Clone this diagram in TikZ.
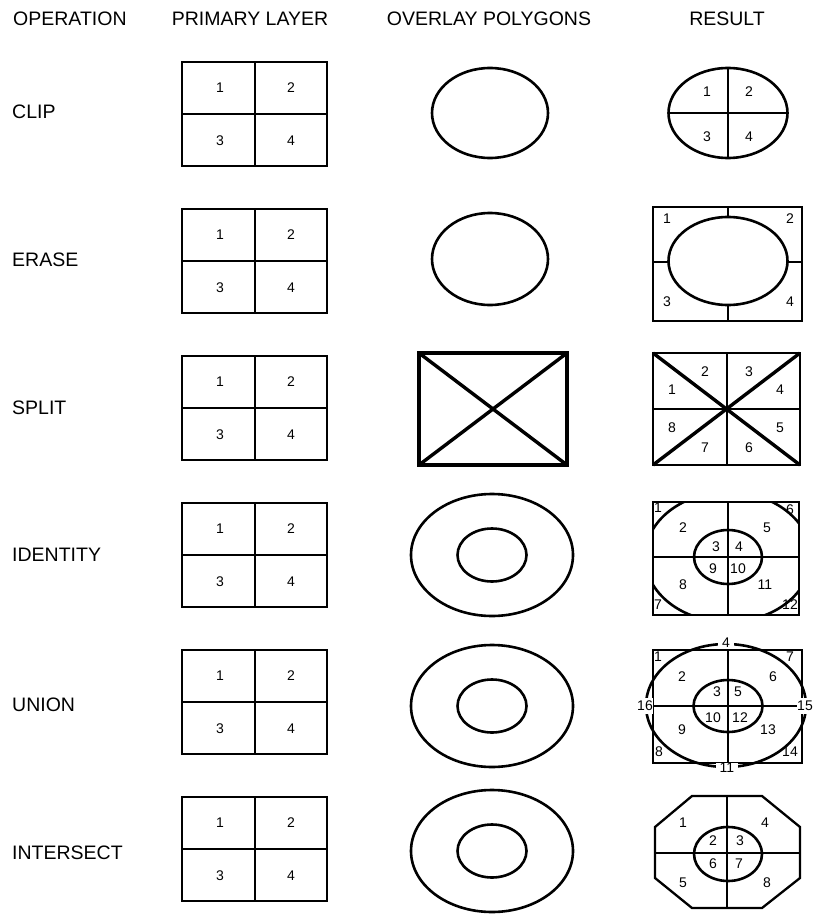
\documentclass[tikz,border=0pt]{standalone}
\usepackage{fontspec}
\setmainfont{Liberation Sans}
\begin{document}
\begin{tikzpicture}[x=1pt,y=-1pt,
  hdr/.style={font=\fontsize{19.5}{22}\selectfont, inner sep=0pt},
  num/.style={font=\fontsize{14}{16}\selectfont, inner sep=0pt},
  gapnum/.style={num, fill=white, inner ysep=0.5pt, inner xsep=4pt},
  gapside/.style={num, fill=white, inner xsep=0.5pt, inner ysep=3pt},
  frame/.style={line width=2.3pt},
  ell/.style={line width=2.6pt},
  thinl/.style={line width=1.7pt},
  thick3/.style={line width=3.4pt}]
\useasboundingbox (0,0) rectangle (812,915);
% headers
\node[hdr, anchor=west] (hop) at (13,19) {OPERATION};
\node[hdr] (hpl) at (250,19) {PRIMARY LAYER};
\node[hdr] (hov) at (489,19) {OVERLAY POLYGONS};
\node[hdr] (hres) at (727,19) {RESULT};
% row labels
\node[hdr, anchor=west] (lclip) at (12,112) {CLIP};
\node[hdr, anchor=west] (lerase) at (12,260) {ERASE};
\node[hdr, anchor=west] (lsplit) at (12,408) {SPLIT};
\node[hdr, anchor=west] (lident) at (12,555) {IDENTITY};
\node[hdr, anchor=west] (lunion) at (12,705) {UNION};
\node[hdr, anchor=west] (linter) at (12,853) {INTERSECT};
% primary layer
\foreach \i in {0,...,5} {
  \pgfmathsetmacro{\cy}{114+147*\i}
  \draw[frame] (182,\cy-52) rectangle (327,\cy+52);
  \draw[thinl] (255,\cy-52) -- (255,\cy+52);
  \draw[frame] (182,\cy) -- (327,\cy);
  \node[num] (p\i a) at (220,\cy-26) {1};
  \node[num] (p\i b) at (291,\cy-26) {2};
  \node[num] (p\i c) at (220,\cy+27) {3};
  \node[num] (p\i d) at (291,\cy+27) {4};
}
% overlay polygons
\draw[ell] (490,113) ellipse [x radius=58, y radius=45];
\draw[ell] (490,259) ellipse [x radius=58, y radius=46];
\draw[thick3] (419,353) rectangle (567,465);
\draw[thick3] (419,353) -- (567,465);
\draw[thick3] (567,353) -- (419,465);
\foreach \cy in {555,706,851} {
  \draw[ell] (492,\cy) ellipse [x radius=81, y radius=61];
  \draw[ell] (492,\cy) ellipse [x radius=34.5, y radius=26.5];
}
% ---- results ----
% CLIP
\draw[ell] (728,113) ellipse [x radius=59.5, y radius=45];
\draw[frame] (728,68) -- (728,158);
\draw[ell] (668.5,113) -- (787.5,113);
\node[num] (c1) at (707,92) {1};
\node[num] (c2) at (749,92) {2};
\node[num] (c3) at (707,137) {3};
\node[num] (c4) at (749,137) {4};
% ERASE
\draw[frame] (653,207) rectangle (802,321);
\draw[ell] (728,261) ellipse [x radius=59.5, y radius=44];
\draw[thinl] (728,207) -- (728,217);
\draw[thinl] (728,305) -- (728,321);
\draw[thinl] (653,262) -- (668.5,262);
\draw[thinl] (787.5,262) -- (802,262);
\node[num] (e1) at (667,219) {1};
\node[num] (e2) at (790,219) {2};
\node[num] (e3) at (667,302) {3};
\node[num] (e4) at (790,302) {4};
% SPLIT
\draw[frame] (653,353) rectangle (800,465);
\draw[thick3] (653,353) -- (800,465);
\draw[thick3] (800,353) -- (653,465);
\draw[thinl] (727,353) -- (727,465);
\draw[frame] (653,409) -- (800,409);
\node[num] (s1) at (672,390) {1};
\node[num] (s2) at (705,372) {2};
\node[num] (s3) at (749,372) {3};
\node[num] (s4) at (780,390) {4};
\node[num] (s5) at (780,428) {5};
\node[num] (s6) at (749,448) {6};
\node[num] (s7) at (705,448) {7};
\node[num] (s8) at (672,428) {8};
% IDENTITY
\begin{scope}
  \clip (653,502) rectangle (799,615);
  \draw[ell] (728,557) ellipse [x radius=83, y radius=65];
\end{scope}
\draw[frame] (653,502) rectangle (799,615);
\draw[ell] (728,557) ellipse [x radius=34, y radius=27];
\draw[thinl] (728,502) -- (728,615);
\draw[frame] (653,557) -- (799,557);
\node[num] (i1) at (658,508) {1};
\node[num] (i2) at (683,528) {2};
\node[num] (i3) at (716,547) {3};
\node[num] (i4) at (739,547) {4};
\node[num] (i5) at (767,528) {5};
\node[num] (i6) at (790,510) {6};
\node[num] (i7) at (658,605) {7};
\node[num] (i8) at (683,585) {8};
\node[num] (i9) at (713,569) {9};
\node[num] (i10) at (738,569) {10};
\node[num] (i11) at (765,585) {11};
\node[num] (i12) at (790,605) {12};
% UNION
\draw[frame] (653,650) rectangle (802,763);
\draw[thinl] (728,650) -- (728,763);
\draw[frame] (653,706) -- (802,706);
\draw[ell] (728,706) ellipse [x radius=34.5, y radius=26];
\draw[ell] (726,705.5) ellipse [x radius=80, y radius=61.5];
\node[num] (u1) at (658,657) {1};
\node[num] (u2) at (682,677) {2};
\node[num] (u3) at (717,692) {3};
\node[gapnum] (u4) at (726,643) {4};
\node[num] (u5) at (738,692) {5};
\node[num] (u6) at (773,677) {6};
\node[num] (u7) at (790,657) {7};
\node[num] (u8) at (659,752) {8};
\node[num] (u9) at (682,730) {9};
\node[num] (u10) at (713,718) {10};
\node[gapnum] (u11) at (727,768) {11};
\node[num] (u12) at (740,718) {12};
\node[num] (u13) at (768,730) {13};
\node[num] (u14) at (790,752) {14};
\node[gapside] (u15) at (805,706) {15};
\node[gapside] (u16) at (645,706) {16};
% INTERSECT
\draw[frame] (692,796) -- (762,796) -- (800,827) -- (800,878) -- (762,908)
  -- (692,908) -- (655,878) -- (655,827) -- cycle;
\draw[thinl] (727,796) -- (727,908);
\draw[frame] (655,853) -- (800,853);
\draw[ell] (728,854) ellipse [x radius=34, y radius=27];
\node[num] (n1) at (683,823) {1};
\node[num] (n2) at (713,841) {2};
\node[num] (n3) at (740,841) {3};
\node[num] (n4) at (765,823) {4};
\node[num] (n5) at (683,883) {5};
\node[num] (n6) at (713,864) {6};
\node[num] (n7) at (739,864) {7};
\node[num] (n8) at (767,883) {8};
\end{tikzpicture}
\end{document}
